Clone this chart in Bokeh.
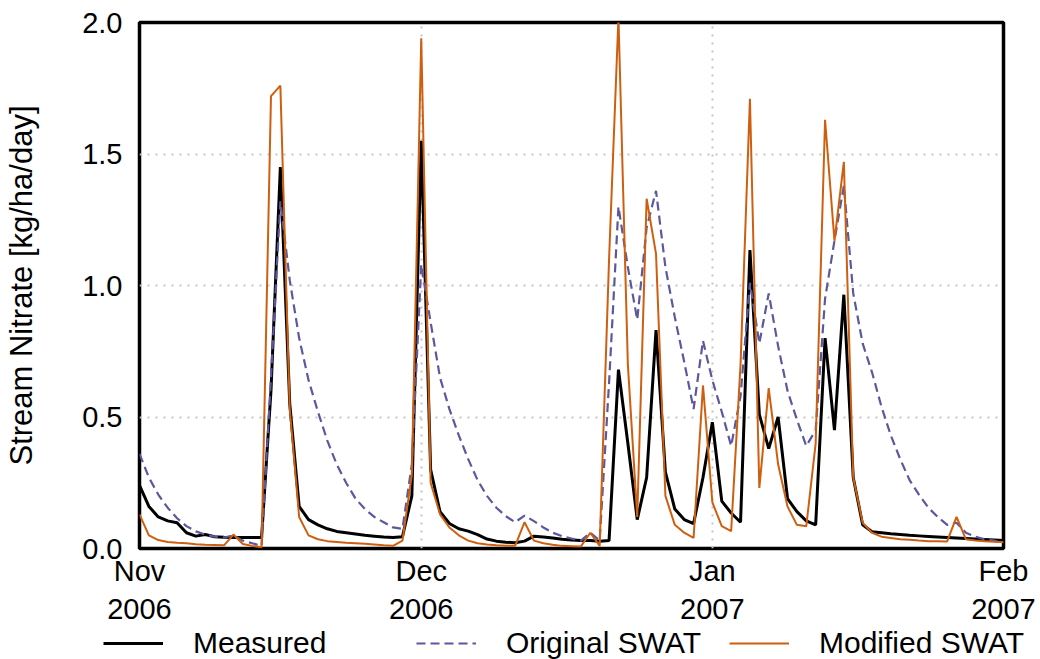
import pandas as pd
from bokeh.plotting import figure
from bokeh.layouts import column
from bokeh.models import (Range1d, FixedTicker, CustomJSTickFormatter,
                          NumeralTickFormatter, Legend, LegendItem)
from bokeh.embed import file_html
from bokeh.resources import INLINE

# Daily stream nitrate load, 1 Nov 2006 - 1 Feb 2007 [kg/ha/day]
dates = pd.date_range("2006-11-01", "2007-02-01", freq="D")

measured = [
    0.24, 0.16, 0.12, 0.105, 0.098, 0.06, 0.047, 0.053, 0.045, 0.043,
    0.042, 0.042, 0.042, 0.042, 0.60, 1.45, 0.55, 0.16, 0.11, 0.09,
    0.075, 0.065, 0.06, 0.055, 0.05, 0.047, 0.044, 0.042, 0.045, 0.20,
    1.55, 0.30, 0.14, 0.095, 0.075, 0.066, 0.053, 0.036, 0.028, 0.024,
    0.022, 0.028, 0.047, 0.044, 0.04, 0.035, 0.032, 0.03, 0.03, 0.028,
    0.03, 0.68, 0.40, 0.11, 0.27, 0.83, 0.29, 0.15, 0.11, 0.095,
    0.27, 0.48, 0.18, 0.135, 0.10, 1.135, 0.51, 0.38, 0.50, 0.19,
    0.14, 0.105, 0.09, 0.80, 0.45, 0.965, 0.27, 0.09, 0.064, 0.06,
    0.056, 0.053, 0.05, 0.048, 0.046, 0.044, 0.042, 0.04, 0.038, 0.036,
    0.034, 0.032, 0.03,
]

original_swat = [
    0.36, 0.27, 0.205, 0.155, 0.115, 0.085, 0.065, 0.053, 0.045, 0.042,
    0.05, 0.03, 0.02, 0.01, 0.65, 1.32, 1.02, 0.80, 0.64, 0.52,
    0.41, 0.32, 0.25, 0.19, 0.15, 0.12, 0.10, 0.08, 0.075, 0.32,
    1.08, 0.86, 0.65, 0.53, 0.43, 0.34, 0.26, 0.20, 0.155, 0.123,
    0.10, 0.125, 0.104, 0.08, 0.06, 0.047, 0.038, 0.03, 0.06, 0.03,
    0.63, 1.30, 1.07, 0.87, 1.22, 1.36, 1.07, 0.88, 0.71, 0.53,
    0.79, 0.64, 0.52, 0.39, 0.58, 1.01, 0.78, 0.97, 0.77, 0.60,
    0.49, 0.39, 0.45, 0.95, 1.17, 1.38, 0.97, 0.78, 0.67, 0.54,
    0.43, 0.34, 0.26, 0.205, 0.155, 0.12, 0.09, 0.098, 0.06, 0.045,
    0.035, 0.03, 0.02,
]

modified_swat = [
    0.13, 0.05, 0.032, 0.025, 0.022, 0.02, 0.016, 0.014, 0.013, 0.012,
    0.053, 0.017, 0.01, 0.005, 1.72, 1.76, 0.53, 0.12, 0.05, 0.035,
    0.028, 0.025, 0.022, 0.02, 0.018, 0.015, 0.012, 0.01, 0.03, 0.28,
    1.94, 0.25, 0.13, 0.08, 0.05, 0.03, 0.02, 0.015, 0.012, 0.01,
    0.01, 0.10, 0.03, 0.02, 0.014, 0.01, 0.009, 0.008, 0.06, 0.01,
    1.10, 2.02, 0.70, 0.12, 1.33, 1.12, 0.20, 0.09, 0.06, 0.04,
    0.62, 0.175, 0.085, 0.066, 0.70, 1.71, 0.23, 0.61, 0.32, 0.16,
    0.09, 0.085, 0.40, 1.63, 1.17, 1.47, 0.27, 0.098, 0.06, 0.045,
    0.04, 0.035, 0.033, 0.03, 0.028, 0.028, 0.027, 0.12, 0.035, 0.03,
    0.028, 0.026, 0.025,
]

series_names = ["Measured", "Original SWAT", "Modified SWAT"]
month_ticks = ["2006-11-01", "2006-12-01", "2007-01-01", "2007-02-01"]
y_ticks = [0.0, 0.5, 1.0, 1.5, 2.0]

FONT = "Liberation Sans"
STYLES = [
    dict(line_color="black", line_width=3),
    dict(line_color="#5b58a0", line_width=2.2, line_dash="9 5"),
    dict(line_color="#cf5f0e", line_width=2),
]

# ---- main chart -------------------------------------------------------
p = figure(width=1040, height=627, output_backend="svg", toolbar_location=None,
           x_axis_type="datetime",
           x_range=Range1d(dates[0], dates[-1]), y_range=Range1d(0, 2.0),
           min_border_left=139, min_border_right=37,
           min_border_top=22, min_border_bottom=78)

p.background_fill_color = "white"
p.border_fill_color = "white"
p.outline_line_color = "black"
p.outline_line_width = 3.5

for values, style in zip([measured, original_swat, modified_swat], STYLES):
    p.line(dates, values, **style)

tick_ms = [pd.Timestamp(t).value // 10**6 for t in month_ticks]
p.xaxis.ticker = FixedTicker(ticks=tick_ms)
p.xaxis.formatter = CustomJSTickFormatter(code="""
    const names = ["Jan","Feb","Mar","Apr","May","Jun","Jul","Aug","Sep","Oct","Nov","Dec"];
    const d = new Date(tick);
    return names[d.getUTCMonth()] + "\\n" + d.getUTCFullYear();
""")
p.yaxis.ticker = FixedTicker(ticks=y_ticks)
p.yaxis.formatter = NumeralTickFormatter(format="0.0")
p.yaxis.axis_label = "Stream Nitrate [kg/ha/day]"

for ax in (p.xaxis[0], p.yaxis[0]):
    ax.axis_line_color = None
    ax.major_tick_line_color = None
    ax.minor_tick_line_color = None
    ax.major_label_text_font = FONT
    ax.major_label_text_font_size = "29px"
    ax.major_label_text_color = "black"

p.xaxis.major_label_standoff = 0
p.yaxis.major_label_standoff = 11
p.yaxis.axis_label_text_font = FONT
p.yaxis.axis_label_text_font_size = "31px"
p.yaxis.axis_label_text_font_style = "normal"
p.yaxis.axis_label_text_color = "black"
p.yaxis.axis_label_standoff = 40

# dotted grid
for g in (p.xgrid[0], p.ygrid[0]):
    g.grid_line_color = "#c4c4c4"
    g.grid_line_width = 2
    g.grid_line_dash = "2 6"

# ---- legend strip below the chart ------------------------------------
leg = figure(width=1040, height=32, output_backend="svg", toolbar_location=None,
             x_range=Range1d(0, 1), y_range=Range1d(0, 1),
             x_axis_location=None, y_axis_location=None,
             min_border_left=0, min_border_right=0,
             min_border_top=0, min_border_bottom=0)
leg.outline_line_color = None
leg.grid.visible = False
leg.background_fill_color = "white"
leg.border_fill_color = "white"

# keep the strip's frame independent of the chart's frame
for fig in (p, leg):
    if "frame_align" in fig.properties():
        fig.frame_align = False

# key lines live outside the strip's visible range; only their legend swatches show
keys = [leg.line([-2, -1], [-2, -2], **style) for style in STYLES]
legend = Legend(items=[LegendItem(label=n, renderers=[r])
                       for n, r in zip(series_names, keys)],
                orientation="horizontal", location=(103, -1))
legend.glyph_width = 60
legend.glyph_height = 20
legend.label_standoff = 30
legend.label_width = 213
legend.spacing = 10
legend.padding = 0
legend.margin = 0
legend.border_line_color = None
legend.background_fill_alpha = 0
legend.label_text_font = FONT
legend.label_text_font_size = "30px"
legend.label_text_color = "black"
leg.add_layout(legend)

open("out.html", "w").write(file_html(column(p, leg, spacing=0), INLINE))
